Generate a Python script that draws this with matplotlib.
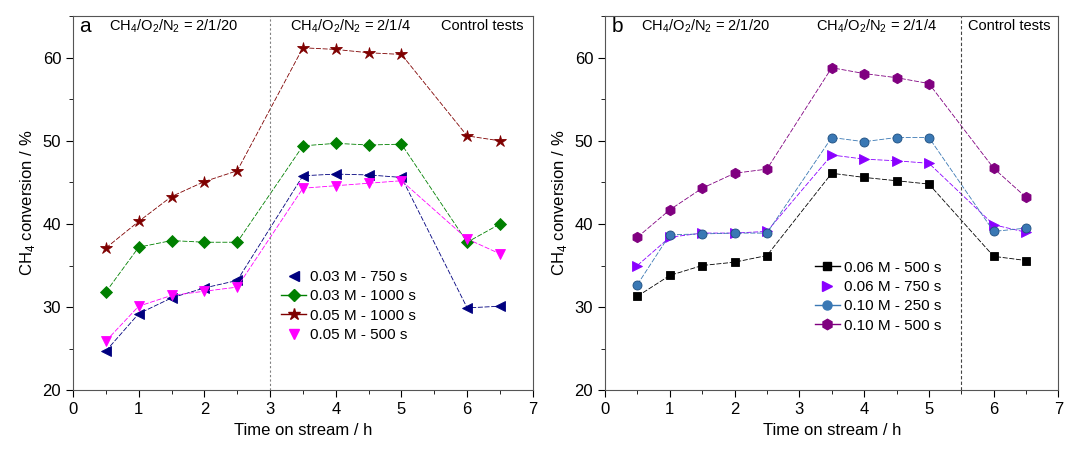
import numpy as np
import matplotlib
matplotlib.use('Agg')
import matplotlib.pyplot as plt
from matplotlib.lines import Line2D

plt.rcParams['font.family'] = ['Liberation Sans', 'DejaVu Sans']
plt.rcParams['mathtext.fontset'] = 'custom'
plt.rcParams['mathtext.rm'] = 'Liberation Sans'

# time on stream / h
t = [0.5, 1.0, 1.5, 2.0, 2.5, 3.5, 4.0, 4.5, 5.0, 6.0, 6.5]

# panel a
a_labels = ['0.03 M - 750 s', '0.03 M - 1000 s', '0.05 M - 1000 s', '0.05 M - 500 s']
a_750 = [24.7, 29.2, 31.1, 32.3, 33.2, 45.8, 46.0, 45.9, 45.6, 29.9, 30.1]
a_1000 = [31.8, 37.2, 38.0, 37.8, 37.8, 49.4, 49.7, 49.5, 49.6, 37.8, 40.0]
b_1000 = [37.1, 40.3, 43.3, 45.1, 46.4, 61.2, 61.0, 60.6, 60.4, 50.6, 50.0]
b_500 = [25.9, 30.1, 31.4, 31.9, 32.4, 44.3, 44.6, 44.9, 45.2, 38.2, 36.4]

# panel b
b_labels = ['0.06 M - 500 s', '0.06 M - 750 s', '0.10 M - 250 s', '0.10 M - 500 s']
c_500 = [31.3, 33.8, 35.0, 35.4, 36.2, 46.1, 45.6, 45.2, 44.8, 36.1, 35.6]
c_750 = [35.0, 38.4, 38.9, 38.9, 39.1, 48.3, 47.8, 47.6, 47.3, 39.9, 39.0]
d_250 = [32.7, 38.7, 38.8, 38.9, 38.9, 50.4, 49.9, 50.4, 50.4, 39.1, 39.5]
d_500 = [38.4, 41.7, 44.3, 46.1, 46.6, 58.8, 58.1, 57.6, 56.9, 46.7, 43.2]

fig = plt.figure(figsize=(10.67, 4.5), dpi=100)
ax1 = fig.add_axes([0.0684, 0.133, 0.431, 0.831])
ax2 = fig.add_axes([0.567, 0.133, 0.425, 0.831])

styleA = [('#00007f', '<', 7, True), ('#008000', 'D', 6, False),
          ('#7f0000', '*', 9, False), ('#ff00ff', 'v', 7, True)]
styleB = [('black', 's', 6, False), ('#8a00ff', '>', 7, True),
          ('#3a78b4', 'o', 6.5, False), ('#800080', 'h', 7.5, False)]

def draw(ax, series, labels, styles):
    handles = []
    for y, lab, (c, m, ms, noline) in zip(series, labels, styles):
        ax.plot(t, y, color=c, lw=0.6, ls=(0, (6, 2)), marker=m, ms=ms,
                mfc=c, mec=c if c != '#3a78b4' else '#1f4f80', mew=0.6)
        handles.append(Line2D([], [], color=c, lw=0 if noline else 1.0,
                              marker=m, ms=ms, mfc=c, mec=c))
    return handles

h1 = draw(ax1, [a_750, a_1000, b_1000, b_500], a_labels, styleA)
h2 = draw(ax2, [c_500, c_750, d_250, d_500], b_labels, styleB)

for ax in (ax1, ax2):
    ax.set_xlim(0, 7)
    ax.set_ylim(20, 65)
    ax.set_xticks(range(0, 8))
    ax.set_xticks(np.arange(0.5, 7, 1), minor=True)
    ax.set_yticks([20, 30, 40, 50, 60])
    ax.set_yticks([25, 35, 45, 55, 65], minor=True)
    ax.tick_params(which='both', direction='out', labelsize=12)
    ax.tick_params(which='major', length=5)
    ax.tick_params(which='minor', length=3)
    ax.set_xlabel('Time on stream / h', fontsize=12)
    ax.set_ylabel('CH$_4$ conversion / %', fontsize=12)
    for s in ax.spines.values():
        s.set_color('#555555')

ax1.axvline(3.0, color='gray', lw=0.8, ls=(0, (2, 2)))
ax2.axvline(5.5, color='#444444', lw=0.8, ls=(0, (3, 2)))

txt = 10.5
ax1.text(0.1, 63.8, 'a', fontsize=15, va='center')
ax1.text(0.55, 63.8, 'CH$_4$/O$_2$/N$_2$ = 2/1/20', fontsize=txt, va='center')
ax1.text(3.3, 63.8, 'CH$_4$/O$_2$/N$_2$ = 2/1/4', fontsize=txt, va='center')
ax1.text(6.85, 63.8, 'Control tests', fontsize=txt, va='center', ha='right')
ax2.text(0.1, 63.8, 'b', fontsize=15, va='center')
ax2.text(0.55, 63.8, 'CH$_4$/O$_2$/N$_2$ = 2/1/20', fontsize=txt, va='center')
ax2.text(3.25, 63.8, 'CH$_4$/O$_2$/N$_2$ = 2/1/4', fontsize=txt, va='center')
ax2.text(6.87, 63.8, 'Control tests', fontsize=txt, va='center', ha='right')

ax1.legend(h1, a_labels, loc='upper left', bbox_to_anchor=(0.43, 0.35),
           frameon=False, fontsize=11, handlelength=1.6, handletextpad=0.3,
           labelspacing=0.35, borderpad=0.2)
ax2.legend(h2, b_labels, loc='upper left', bbox_to_anchor=(0.44, 0.375),
           frameon=False, fontsize=11, handlelength=1.6, handletextpad=0.3,
           labelspacing=0.35, borderpad=0.2)

fig.savefig('out.png', dpi=100)
